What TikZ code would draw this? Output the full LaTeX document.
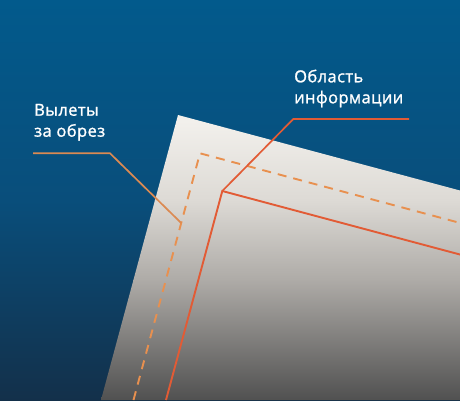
\documentclass[tikz,border=0pt]{standalone}
\usepackage{fontspec}
\setmainfont{Open Sans}[LetterSpace=2.5,FakeBold=1.3]
\definecolor{bgtop}{HTML}{025A8C}
\definecolor{bgmid}{HTML}{094E7B}
\definecolor{bgbot}{HTML}{13304A}
\definecolor{pA}{HTML}{F4F2EE}
\definecolor{pB}{HTML}{DDDAD5}
\definecolor{pC}{HTML}{AEABA7}
\definecolor{pD}{HTML}{505050}
\definecolor{bleedc}{HTML}{E8904F}
\definecolor{infoc}{HTML}{E25B35}
\definecolor{callc}{HTML}{DB8A52}
\tikzset{
  lbl/.style={text=white, font=\fontsize{16.5}{21}\selectfont, align=left, inner sep=0pt},
  bleedline/.style={draw=bleedc, line width=1.9pt, dash pattern=on 9pt off 7pt},
  infoline/.style={draw=infoc, line width=1.9pt},
  callbleed/.style={draw=callc, line width=1.7pt},
  callinfo/.style={draw=infoc, line width=1.7pt},
}
\begin{document}
\begin{tikzpicture}[x=1pt, y=-1pt]
\useasboundingbox (0,0) rectangle (460,400);
% background
\shade[top color=bgtop, bottom color=bgmid] (0,0) rectangle (460,200);
\shade[top color=bgmid, bottom color=bgbot] (0,200) rectangle (460,400.5);
% paper
\coordinate (pc) at (178,115);
\begin{scope}
\clip (pc) -- (460,190.5) -- (460,400) -- (101,400) -- cycle;
\shade[top color=pA, bottom color=pB] (90,114) rectangle (460,200);
\shade[top color=pB, bottom color=pC] (90,200) rectangle (460,280);
\shade[top color=pC, bottom color=pD] (90,280) rectangle (460,401);
\end{scope}
% bleed (dashed) and info area (solid)
\coordinate (dc) at (200,153.3);
\coordinate (sc) at (222.3,191);
\draw[bleedline] (133.5,400) -- (dc) -- (470,225.6);
\draw[infoline] (166,400) -- (sc) -- (470,257.2);
% labels
\node[lbl, anchor=base west] (bleedlbl) at (34,136.7) {Вылеты\\за обрез};
\node[lbl, anchor=base west] (infolbl) at (294,103.3) {Область\\информации};
% callouts
\coordinate (b1) at (33,153.3);
\coordinate (b2) at (110,153.3);
\coordinate (b3) at (181.2,223);
\draw[callbleed] (b1) -- (b2) -- (b3);
\coordinate (i1) at (409,119);
\coordinate (i2) at (293.3,119);
\draw[callinfo] (i1) -- (i2) -- (sc);
\end{tikzpicture}
\end{document}
